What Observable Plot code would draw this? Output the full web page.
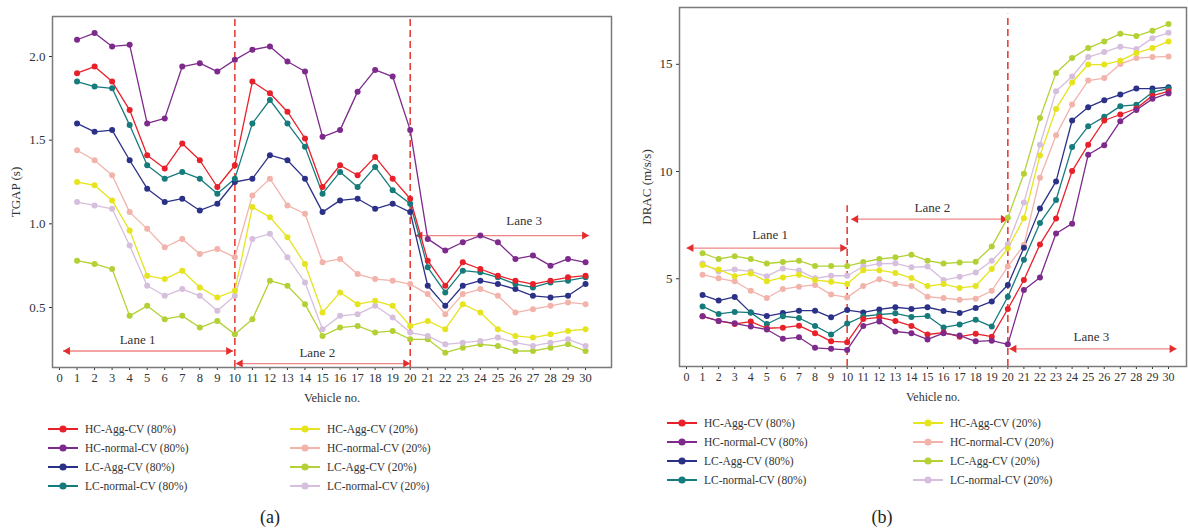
<!DOCTYPE html>
<html><head><meta charset="utf-8">
<script src="https://cdn.jsdelivr.net/npm/d3@7"></script>
<script src="https://cdn.jsdelivr.net/npm/@observablehq/plot@0.6"></script>
<style>
body{margin:0;background:#fff;font-family:"Liberation Serif","Times New Roman",serif;color:#333;}
#wrap{position:relative;width:1188px;height:530px;overflow:hidden;background:#fff;}
.panel{position:absolute;top:0;}
.leg{position:absolute;font-size:11.5px;white-space:nowrap;display:flex;align-items:center;height:16px;color:#333;}
.leg svg{margin-right:7px;}
.cap{position:absolute;font-size:18px;color:#222;transform:translate(-50%,-50%);}
</style></head><body><div id="wrap"></div>
<script>
// ---- categories / ticks ----
const vehicles = [1,2,3,4,5,6,7,8,9,10,11,12,13,14,15,16,17,18,19,20,21,22,23,24,25,26,27,28,29,30];
const xTicks = [0,1,2,3,4,5,6,7,8,9,10,11,12,13,14,15,16,17,18,19,20,21,22,23,24,25,26,27,28,29,30];
const tgapTicks = [0.5, 1.0, 1.5, 2.0];
const dracTicks = [5, 10, 15];
const seriesNames = ["HC-Agg-CV (80%)","HC-normal-CV (80%)","LC-Agg-CV (80%)","LC-normal-CV (80%)",
                     "HC-Agg-CV (20%)","HC-normal-CV (20%)","LC-Agg-CV (20%)","LC-normal-CV (20%)"];
const seriesColors = ["#e8202a","#7d2a8c","#2c3188","#167b7b","#e6e41e","#f2b3ab","#b3d136","#d6bedd"];
const laneNames = ["Lane 1","Lane 2","Lane 3"];

// ---- TGAP (s) ----
const tgapHCAgg80    = [1.90,1.94,1.85,1.68,1.41,1.33,1.48,1.38,1.22,1.35,1.85,1.78,1.67,1.51,1.22,1.35,1.29,1.40,1.27,1.15,0.78,0.63,0.77,0.73,0.69,0.66,0.64,0.66,0.68,0.69];
const tgapHCNormal80 = [2.10,2.14,2.06,2.07,1.60,1.63,1.94,1.96,1.91,1.98,2.04,2.06,1.97,1.91,1.52,1.56,1.79,1.92,1.88,1.56,0.91,0.84,0.89,0.93,0.89,0.79,0.81,0.75,0.79,0.77];
const tgapLCAgg80    = [1.60,1.55,1.56,1.38,1.21,1.13,1.15,1.08,1.12,1.25,1.27,1.41,1.38,1.27,1.07,1.14,1.15,1.09,1.12,1.07,0.63,0.51,0.63,0.66,0.64,0.61,0.57,0.56,0.57,0.64];
const tgapLCNormal80 = [1.85,1.82,1.81,1.59,1.35,1.27,1.31,1.27,1.18,1.27,1.60,1.74,1.60,1.46,1.18,1.31,1.22,1.34,1.20,1.12,0.74,0.59,0.72,0.71,0.68,0.64,0.62,0.65,0.66,0.68];
const tgapHCAgg20    = [1.25,1.23,1.14,0.96,0.69,0.67,0.72,0.62,0.56,0.60,1.10,1.04,0.92,0.76,0.47,0.59,0.52,0.54,0.51,0.39,0.42,0.37,0.52,0.47,0.37,0.33,0.32,0.34,0.36,0.37];
const tgapHCNormal20 = [1.44,1.38,1.29,1.07,0.97,0.86,0.91,0.82,0.85,0.80,1.17,1.27,1.11,1.06,0.77,0.79,0.70,0.67,0.66,0.64,0.58,0.46,0.58,0.61,0.57,0.47,0.49,0.51,0.53,0.52];
const tgapLCAgg20    = [0.78,0.76,0.73,0.45,0.51,0.43,0.45,0.38,0.42,0.34,0.43,0.66,0.63,0.52,0.33,0.38,0.39,0.35,0.36,0.31,0.31,0.23,0.26,0.28,0.27,0.24,0.24,0.26,0.28,0.24];
const tgapLCNormal20 = [1.13,1.11,1.09,0.87,0.63,0.57,0.61,0.57,0.48,0.57,0.91,0.94,0.80,0.65,0.37,0.45,0.46,0.51,0.44,0.35,0.33,0.28,0.29,0.30,0.32,0.29,0.27,0.29,0.31,0.27];

// ---- DRAC (m/s/s) ----
const dracHCAgg80    = [3.25,3.03,2.89,3.00,2.69,2.72,2.81,2.46,2.08,2.04,3.12,3.20,3.03,2.80,2.40,2.49,2.30,2.43,2.30,3.59,4.94,6.60,7.81,10.02,11.25,12.38,12.66,12.94,13.54,13.74];
const dracHCNormal80 = [3.25,3.03,2.92,2.77,2.63,2.20,2.27,1.78,1.73,1.68,2.80,3.01,2.54,2.46,2.17,2.46,2.35,2.08,2.11,1.94,4.47,5.06,7.11,7.57,10.78,11.23,12.35,12.87,13.39,13.64];
const dracLCAgg80    = [4.24,3.98,4.15,3.42,3.26,3.40,3.51,3.51,3.20,3.54,3.43,3.57,3.67,3.59,3.67,3.50,3.40,3.64,3.94,4.71,6.45,8.27,9.54,12.38,13.00,13.33,13.59,13.87,13.87,13.93];
const dracLCNormal80 = [3.71,3.36,3.45,3.42,2.89,3.25,3.17,2.80,2.40,2.91,3.25,3.33,3.39,3.22,3.26,2.73,2.86,3.09,2.77,4.16,5.88,7.60,8.67,11.14,12.11,12.55,13.05,13.11,13.70,13.87];
const dracHCAgg20    = [5.64,5.43,5.12,5.25,4.88,5.06,5.19,4.94,4.86,4.75,5.40,5.40,5.27,5.03,4.66,4.75,4.57,4.66,5.46,6.41,7.82,10.75,12.92,14.15,14.99,14.99,15.17,15.53,15.76,16.07];
const dracHCNormal20 = [5.19,5.02,4.88,4.44,4.10,4.52,4.63,4.71,4.26,4.13,4.66,4.98,4.75,4.66,4.16,4.10,4.02,4.07,4.44,5.57,6.57,9.71,11.69,13.13,14.24,14.36,15.01,15.29,15.34,15.37];
const dracLCAgg20    = [6.19,5.92,6.05,5.92,5.71,5.78,5.84,5.59,5.59,5.59,5.78,5.92,6.00,6.12,5.84,5.71,5.76,5.79,6.50,7.85,9.90,12.50,14.60,15.29,15.76,16.07,16.43,16.32,16.57,16.88];
const dracLCNormal20 = [5.71,5.34,5.43,5.34,5.12,5.48,5.39,5.02,5.14,5.14,5.57,5.70,5.72,5.53,5.57,4.94,5.09,5.29,5.84,6.61,8.55,11.25,13.74,14.43,15.34,15.57,15.82,15.71,16.22,16.47];

// ---- lane annotations (vehicle no. / value units) ----
const tgapLaneStart = [0.2, 10.05, 20.3];
const tgapLaneEnd   = [9.9, 20.0, 30.2];
const tgapLaneLevel = [0.24, 0.165, 0.93];
const tgapLabelX    = [4.45, 14.7, 26.5];
const tgapLabelY    = [0.305, 0.232, 1.015];
const dracLaneStart = [0.0, 10.25, 20.1];
const dracLaneEnd   = [10.0, 20.0, 30.5];
const dracLaneLevel = [6.43, 7.78, 1.73];
const dracLabelX    = [5.2, 15.3, 25.2];
const dracLabelY    = [7.05, 8.32, 2.27];
const tgapDivX = [10, 20];
const dracDivX = [10, 20];
const dracDivTop = [8.4, 17.33];

const tgapSeries = [tgapHCAgg80,tgapHCNormal80,tgapLCAgg80,tgapLCNormal80,tgapHCAgg20,tgapHCNormal20,tgapLCAgg20,tgapLCNormal20];
const dracSeries = [dracHCAgg80,dracHCNormal80,dracLCAgg80,dracLCNormal80,dracHCAgg20,dracHCNormal20,dracLCAgg20,dracLCNormal20];
const drawOrder = [6,7,5,4,2,3,0,1];

function longTable(seriesArr){
  const rows = [];
  for (const s of drawOrder) vehicles.forEach((v,i)=>rows.push({series: seriesNames[s], vehicle: v, value: seriesArr[s][i]}));
  return rows;
}
function laneTable(x1,x2,y,lx,ly){
  return laneNames.map((n,i)=>({name:n, x1:x1[i], x2:x2[i], y:y[i], lx:lx[i], ly:ly[i]}));
}

const arrowLine = "#f08585", arrowHead = "#e52d2d", divColor = "#e5403a";

function panel({data, lanes, divs, yDomain, xDomain, yTicks, yFmt, yLabel, yLabelOffset, width, marginLeft, marginRight, marginTop, height, xFont}){
  return Plot.plot({
    width, height, marginLeft, marginRight, marginTop, marginBottom: 40,
    style: {fontFamily: '"Liberation Serif", "Times New Roman", serif', color: "#333", background: "transparent", overflow: "visible"},
    x: {domain: xDomain},
    y: {domain: yDomain},
    color: {domain: seriesNames, range: seriesColors},
    marks: [
      Plot.axisX({ticks: xTicks, tickSize: 3, tickPadding: 3, fontSize: xFont, label: "Vehicle no.", labelAnchor: "center", labelArrow: "none", labelOffset: 34}),
      Plot.axisY({ticks: yTicks, tickFormat: yFmt, tickSize: 3, tickPadding: 4, fontSize: 13, label: yLabel, labelAnchor: "center", labelArrow: "none", labelOffset: yLabelOffset}),
      Plot.ruleX(divs, {x: "x", y1: "y1", y2: "y2", stroke: divColor, strokeWidth: 1.6, strokeDasharray: "7,4"}),
      Plot.link(lanes, {x1: "x1", x2: "x2", y1: "y", y2: "y", stroke: arrowLine, strokeWidth: 1.3}),
      Plot.dot(lanes, {x: "x1", y: "y", symbol: "triangle", rotate: -90, r: 3, fill: arrowHead, stroke: "none", dx: 4.6}),
      Plot.dot(lanes, {x: "x2", y: "y", symbol: "triangle", rotate: 90, r: 3, fill: arrowHead, stroke: "none", dx: -4.6}),
      Plot.text(lanes, {x: "lx", y: "ly", text: "name", fontSize: 13, fill: "#333"}),
      Plot.line(data, {x: "vehicle", y: "value", z: "series", stroke: "series", strokeWidth: 1.3}),
      Plot.dot(data, {x: "vehicle", y: "value", fill: "series", r: 3}),
      Plot.frame({stroke: "#7a7a7a", strokeWidth: 1.5})
    ]
  });
}

const wrap = document.getElementById("wrap");

const pa = panel({
  data: longTable(tgapSeries),
  lanes: laneTable(tgapLaneStart,tgapLaneEnd,tgapLaneLevel,tgapLabelX,tgapLabelY),
  divs: tgapDivX.map(x=>({x, y1: 0.1414, y2: 2.225})),
  xDomain: [-0.4, 31.48], yDomain: [0.1414, 2.239],
  yTicks: tgapTicks, yFmt: d=>d.toFixed(1), yLabel: "TGAP (s)", yLabelOffset: 42,
  width: 615, marginLeft: 52, marginRight: 4, marginTop: 16, height: 407, xFont: 12.5
});
const da = document.createElement("div"); da.className = "panel"; da.style.left = "0px"; da.appendChild(pa); wrap.appendChild(da);

const pb = panel({
  data: longTable(dracSeries),
  lanes: laneTable(dracLaneStart,dracLaneEnd,dracLaneLevel,dracLabelX,dracLabelY),
  divs: dracDivX.map((x,i)=>({x, y1: 0.907, y2: dracDivTop[i]})),
  xDomain: [-0.436, 31.12], yDomain: [0.907, 17.65],
  yTicks: dracTicks, yFmt: d=>String(d), yLabel: "DRAC (m/s/s)", yLabelOffset: 38,
  width: 588, marginLeft: 79, marginRight: 2, marginTop: 7, height: 406, xFont: 12
});
const db = document.createElement("div"); db.className = "panel"; db.style.left = "600px"; db.appendChild(pb); wrap.appendChild(db);

// ---- legends ----
function legend(colX, rowY){
  seriesNames.forEach((name,i)=>{
    const col = i < 4 ? 0 : 1, row = i % 4;
    const d = document.createElement("div");
    d.className = "leg";
    d.style.left = colX[col] + "px";
    d.style.top = (rowY[0] + row*19 - 8) + "px";
    const c = seriesColors[i];
    d.innerHTML = `<svg width="30" height="10"><line x1="0" x2="30" y1="5" y2="5" stroke="${c}" stroke-width="2"/><circle cx="15" cy="5" r="3.6" fill="${c}"/></svg><span>${name}</span>`;
    wrap.appendChild(d);
  });
}
legend([48, 290], [429]);
legend([667, 913], [423]);

const capA = document.createElement("div"); capA.className="cap"; capA.textContent="(a)"; capA.style.left="270px"; capA.style.top="517px"; wrap.appendChild(capA);
const capB = document.createElement("div"); capB.className="cap"; capB.textContent="(b)"; capB.style.left="882px"; capB.style.top="517px"; wrap.appendChild(capB);
</script>
</body></html>
